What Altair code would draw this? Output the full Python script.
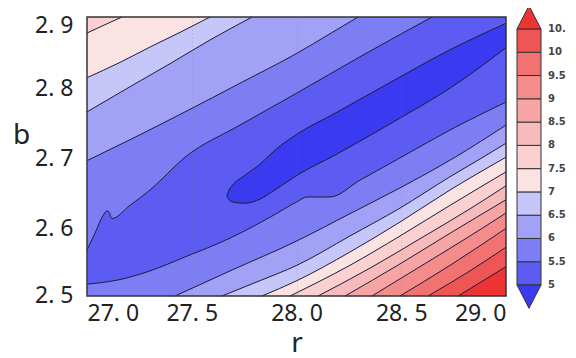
import altair as alt
import pandas as pd

# ---------------- data ----------------
R_DOMAIN = [27.0, 29.0]
B_DOMAIN = [2.5, 2.9]
R_TICKS = [27.0, 27.5, 28.0, 28.5, 29.0]
B_TICKS = [2.5, 2.6, 2.7, 2.8, 2.9]
LEVELS = [5.0, 5.5, 6.0, 6.5, 7.0, 7.5, 8.0, 8.5, 9.0, 9.5, 10.0, 10.5]
CBAR_LABELS = ["5", "5.5", "6", "6.5", "7", "7.5", "8", "8.5", "9", "9.5", "10", "10."]
BAND_COLORS = ["#3a3af0", "#5c5cf2", "#7e7ef4", "#a1a1f6", "#c6c6f9", "#fce3e3",
               "#fad0d0", "#f8bbbb", "#f6a4a4", "#f48c8c", "#f27272", "#f05555", "#ee3333"]

# contours on the upper-left side of the valley (r, b), left edge -> top edge
U55_R = [27.000, 27.038, 27.076, 27.095, 27.106, 27.118, 27.205, 27.301, 27.468, 27.730, 28.002, 28.303, 28.647]
U55_B = [2.566, 2.590, 2.615, 2.622, 2.620, 2.611, 2.630, 2.652, 2.699, 2.745, 2.791, 2.843, 2.900]
U60_R = [27.000, 27.205, 27.468, 27.730, 28.002, 28.160, 28.294]
U60_B = [2.694, 2.724, 2.764, 2.805, 2.848, 2.876, 2.900]
U65_R = [27.000, 27.205, 27.396, 27.587, 27.788]
U65_B = [2.764, 2.800, 2.833, 2.867, 2.900]
U70_R = [27.000, 27.158, 27.301, 27.444, 27.587]
U70_B = [2.813, 2.835, 2.857, 2.878, 2.900]
U75_R = [27.000, 27.086, 27.167]
U75_B = [2.877, 2.889, 2.900]

# contours on the lower-right side of the valley (r, b), left/bottom edge -> right edge
L55_R = [27.000, 27.148, 27.301, 27.468, 27.683, 27.874, 28.002, 28.050, 28.160, 28.303, 28.518, 28.733, 29.000]
L55_B = [2.517, 2.523, 2.536, 2.556, 2.583, 2.613, 2.635, 2.642, 2.642, 2.666, 2.702, 2.738, 2.778]
L60_R = [27.420, 27.683, 28.002, 28.255, 28.494, 28.757, 29.000]
L60_B = [2.500, 2.536, 2.579, 2.618, 2.655, 2.699, 2.745]
L65_R = [27.644, 27.826, 28.002, 28.255, 28.494, 28.733, 28.885, 29.000]
L65_B = [2.500, 2.522, 2.544, 2.586, 2.626, 2.671, 2.698, 2.719]
L70_R = [27.835, 28.002, 28.255, 28.494, 28.733, 29.000]
L70_B = [2.500, 2.522, 2.563, 2.606, 2.652, 2.699]
L75_R = [27.969, 28.255, 28.494, 28.733, 29.000]
L75_B = [2.500, 2.544, 2.586, 2.630, 2.678]
L80_R = [28.103, 28.351, 28.589, 28.828, 29.000]
L80_B = [2.500, 2.540, 2.582, 2.625, 2.658]
L85_R = [28.232, 28.494, 28.733, 29.000]
L85_B = [2.500, 2.546, 2.590, 2.638]
L90_R = [28.360, 28.589, 28.828, 29.000]
L90_B = [2.500, 2.542, 2.586, 2.619]
L95_R = [28.494, 28.733, 29.000]
L95_B = [2.500, 2.544, 2.597]
L100_R = [28.628, 28.828, 29.000]
L100_B = [2.500, 2.536, 2.570]
L105_R = [28.771, 29.000]
L105_B = [2.500, 2.542]

# closed 5.0 contour (minimum valley): lower and upper edge at the same r
ELL_R = [27.668, 27.678, 27.692, 27.754, 27.826, 27.897, 28.002, 28.184, 28.303, 28.494, 28.733, 29.000]
ELL_LO = [2.643, 2.638, 2.635, 2.633, 2.639, 2.652, 2.673, 2.702, 2.722, 2.755, 2.798, 2.856]
ELL_HI = [2.643, 2.652, 2.658, 2.673, 2.689, 2.709, 2.732, 2.762, 2.782, 2.814, 2.853, 2.891]

# ---------------- build ----------------
def fmt(v):
    return ("%g" % v)

band_names = ["<" + fmt(LEVELS[0])] + \
    [fmt(LEVELS[i - 1]) + "-" + fmt(LEVELS[i]) for i in range(1, len(LEVELS))] + \
    [">" + fmt(LEVELS[-1])]
color_scale = alt.Scale(domain=band_names, range=BAND_COLORS)
color_enc = alt.Color("band:N", scale=color_scale, legend=None)

FONT = "Noto Sans"
label_expr = "replace(format(datum.value, '.1f'), '.', '. ')"

x_axis = alt.Axis(title="r", values=R_TICKS, labelExpr=label_expr, labelFont=FONT,
                  labelFontSize=23, labelColor="#222", labelFlush=14, labelPadding=6,
                  ticks=False, domain=False, grid=True, gridDash=[1, 3], gridColor="#777",
                  gridOpacity=0.45, zindex=1, titleFont=FONT, titleFontSize=28,
                  titleFontWeight="normal", titleColor="#222", titleX=209.5, titleY=55,
                  titleBaseline="alphabetic")
y_axis = alt.Axis(title="b", values=B_TICKS, labelExpr=label_expr, labelFont=FONT,
                  labelFontSize=23, labelColor="#222", labelPadding=14,
                  labelOffset={"condition": [{"test": "datum.value > 2.85", "value": 8},
                                             {"test": "datum.value < 2.55", "value": -1}],
                               "value": 2},
                  ticks=False, domain=False, grid=False, zindex=1, titleFont=FONT,
                  titleFontSize=28, titleFontWeight="normal", titleColor="#222",
                  titleAngle=0, titleX=-66, titleY=118, titleAlign="center",
                  titleBaseline="middle")
x_scale = alt.Scale(domain=R_DOMAIN, nice=False, zero=False)
y_scale = alt.Scale(domain=B_DOMAIN, nice=False, zero=False)


def X():
    return alt.X("r:Q", scale=x_scale, axis=x_axis)


def Y():
    return alt.Y("b:Q", scale=y_scale, axis=y_axis)


def band_of(level):
    return band_names[LEVELS.index(level) + 1]


layers = []

# base band (between the two branches of the 5.5 contour)
bg = pd.DataFrame({"r": [R_DOMAIN[0]], "r2": [R_DOMAIN[1]], "b": [B_DOMAIN[0]],
                   "b2": [B_DOMAIN[1]], "band": [band_names[1]]})
layers.append(alt.Chart(bg).mark_rect().encode(x=X(), x2="r2", y=Y(), y2="b2", color=color_enc))

upper = [(5.5, U55_R, U55_B), (6.0, U60_R, U60_B), (6.5, U65_R, U65_B),
         (7.0, U70_R, U70_B), (7.5, U75_R, U75_B)]
lower = [(5.5, L55_R, L55_B), (6.0, L60_R, L60_B), (6.5, L65_R, L65_B),
         (7.0, L70_R, L70_B), (7.5, L75_R, L75_B), (8.0, L80_R, L80_B),
         (8.5, L85_R, L85_B), (9.0, L90_R, L90_B), (9.5, L95_R, L95_B),
         (10.0, L100_R, L100_B), (10.5, L105_R, L105_B)]


def area(rs, bs, edge, band):
    df = pd.DataFrame({"r": rs, "b": bs, "b2": [edge] * len(rs), "band": [band] * len(rs)})
    return alt.Chart(df).mark_area(interpolate="monotone").encode(
        x=X(), y=Y(), y2="b2", color=color_enc)


# 5.5 band outside the two branches
layers.append(area(L55_R, L55_B, B_DOMAIN[0], band_of(5.5)))
layers.append(area(U55_R, U55_B, B_DOMAIN[1], band_of(5.5)))
# valley minimum
ell = pd.DataFrame({"r": ELL_R, "b": ELL_LO, "b2": ELL_HI, "band": [band_names[0]] * len(ELL_R)})
layers.append(alt.Chart(ell).mark_area(interpolate="monotone").encode(
    x=X(), y=Y(), y2="b2", color=color_enc))
for lev, rs, bs in upper[1:]:
    layers.append(area(rs, bs, B_DOMAIN[1], band_of(lev)))
for lev, rs, bs in lower[1:]:
    layers.append(area(rs, bs, B_DOMAIN[0], band_of(lev)))

# contour lines
rows = []
curves = [("U%g" % l, rs, bs) for l, rs, bs in upper] + \
         [("L%g" % l, rs, bs) for l, rs, bs in lower] + \
         [("Elo", ELL_R, ELL_LO), ("Ehi", ELL_R, ELL_HI)]
for name, rs, bs in curves:
    for i, (r, b) in enumerate(zip(rs, bs)):
        rows.append({"curve": name, "i": i, "r": r, "b": b})
lines = pd.DataFrame(rows)
layers.append(alt.Chart(lines).mark_line(interpolate="monotone", color="#1c1c38",
                                         strokeWidth=1).encode(
    x=X(), y=Y(), detail="curve:N", order="i:Q"))

# frame
layers.append(alt.Chart(bg).mark_rect(fillOpacity=0, stroke="#333", strokeWidth=1.5).encode(
    x=X(), x2="r2", y=Y(), y2="b2"))

main = alt.layer(*layers)

# ---------------- colour bar ----------------
step = LEVELS[1] - LEVELS[0]
cb_x = alt.Scale(domain=[0, 1], range=[430, 454])
cb_y = alt.Scale(domain=[LEVELS[0] - step, LEVELS[-1] + step], range=[291.3, -11.3])

boxes = pd.DataFrame({"cx": [0] * (len(LEVELS) - 1), "cx2": [1] * (len(LEVELS) - 1),
                      "cy": LEVELS[:-1], "cy2": LEVELS[1:], "band": band_names[1:-1]})
box_layer = alt.Chart(boxes).mark_rect(stroke="#333", strokeWidth=1).encode(
    x=alt.X("cx:Q", scale=cb_x, axis=None), x2="cx2",
    y=alt.Y("cy:Q", scale=cb_y, axis=None), y2="cy2", color=color_enc)

tri_top = pd.DataFrame({"cx": [0, 0.5, 1], "cy": [LEVELS[-1], LEVELS[-1] + step, LEVELS[-1]],
                        "cy2": [LEVELS[-1]] * 3, "band": [band_names[-1]] * 3})
tri_bot = pd.DataFrame({"cx": [0, 0.5, 1], "cy": [LEVELS[0], LEVELS[0] - step, LEVELS[0]],
                        "cy2": [LEVELS[0]] * 3, "band": [band_names[0]] * 3})


def tri(df):
    return alt.Chart(df).mark_area(stroke="#333", strokeWidth=1).encode(
        x=alt.X("cx:Q", scale=cb_x, axis=None),
        y=alt.Y("cy:Q", scale=cb_y, axis=None), y2="cy2", color=color_enc)


labels = pd.DataFrame({"cx": [1] * len(LEVELS), "cy": LEVELS, "txt": CBAR_LABELS})
label_layer = alt.Chart(labels).mark_text(align="left", baseline="middle", dx=7,
                                          font="DejaVu Sans", fontWeight="bold",
                                          fontSize=10, color="#444").encode(
    x=alt.X("cx:Q", scale=cb_x, axis=None),
    y=alt.Y("cy:Q", scale=cb_y, axis=None), text="txt:N")

cbar = alt.layer(box_layer, tri(tri_top), tri(tri_bot), label_layer)

chart = alt.layer(main, cbar).resolve_scale(x="independent", y="independent").properties(
    width=419, height=279,
    padding={"left": 79, "top": 9, "right": 60, "bottom": 62},
    autosize=alt.AutoSizeParams(type="none"),
    background="white",
).configure_view(strokeWidth=0)

chart.save("out.html", embed_options={"renderer": "svg", "actions": False})
